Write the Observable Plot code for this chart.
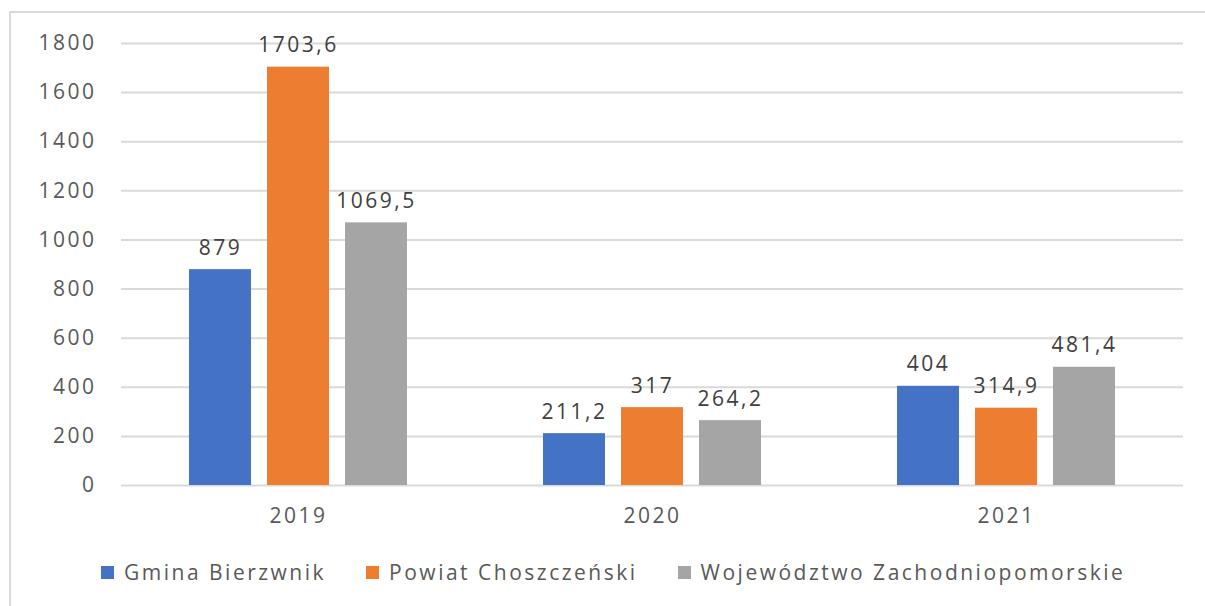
<!DOCTYPE html>
<html><head><meta charset="utf-8">
<script src="https://cdn.jsdelivr.net/npm/d3@7"></script>
<script src="https://cdn.jsdelivr.net/npm/@observablehq/plot@0.6"></script>
<style>
body{margin:0;background:#fff;width:1205px;height:606px;overflow:hidden;position:relative;font-family:"Open Sans",sans-serif;}
#frame{position:absolute;left:9px;top:11px;width:1220px;height:640px;border:2px solid #d9d9d9;box-sizing:border-box;}
#chart{position:absolute;left:0;top:0;}
#legend{position:absolute;top:558px;left:101px;display:flex;align-items:center;font-size:21px;letter-spacing:2.5px;color:#595959;white-space:nowrap;}
#legend .item{display:flex;align-items:center;margin-right:40px;}
#legend .sw{width:13px;height:13px;margin-right:10px;}
</style></head>
<body>
<div id="frame"></div>
<div id="chart"></div>
<div id="legend"></div>
<script>
const years = ["2019", "2020", "2021"];
const seriesNames = ["Gmina Bierzwnik", "Powiat Choszczeński", "Województwo Zachodniopomorskie"];
const gmina = [879, 211.2, 404];
const powiat = [1703.6, 317, 314.9];
const wojewodztwo = [1069.5, 264.2, 481.4];
const colors = ["#4472C4", "#ED7D31", "#A5A5A5"];
const yTicks = [0, 200, 400, 600, 800, 1000, 1200, 1400, 1600, 1800];

const seriesValues = [gmina, powiat, wojewodztwo];
const data = years.flatMap((y, i) => seriesNames.map((s, j) => ({year: y, series: s, value: seriesValues[j][i]})));
const locale = d3.formatLocale({decimal: ",", thousands: "", grouping: [3], currency: ["", ""]});
const fmt = v => Number.isInteger(v) ? String(v) : locale.format(".1f")(v);

const chart = Plot.plot({
  width: 1205, height: 545,
  marginLeft: 120, marginRight: 22, marginTop: 43, marginBottom: 60,
  style: {fontFamily: "Open Sans, sans-serif", fontSize: "21px", color: "#595959", background: "transparent", letterSpacing: "2.5px"},
  fx: {domain: years, padding: 0, label: null},
  x: {domain: seriesNames, paddingInner: 0.205, paddingOuter: 0.87, axis: null},
  y: {domain: [0, 1800], label: null},
  color: {domain: seriesNames, range: colors},
  marks: [
    Plot.ruleY(yTicks, {stroke: "#d9d9d9", strokeWidth: 2}),
    Plot.axisY(yTicks, {tickSize: 0, tickPadding: 25, label: null, fill: "#595959", tickFormat: d => String(d)}),
    Plot.axisFx({tickSize: 0, tickPadding: 23, label: null, anchor: "bottom", fill: "#595959"}),
    Plot.barY(data, {fx: "year", x: "series", y: "value", fill: "series"}),
    Plot.text(data, {fx: "year", x: "series", y: "value", text: d => fmt(d.value), dy: -15, lineAnchor: "bottom", fill: "#404040"})
  ]
});
document.getElementById("chart").appendChild(chart);

const legend = document.getElementById("legend");
seriesNames.forEach((s, i) => {
  const item = document.createElement("div");
  item.className = "item";
  const sw = document.createElement("div");
  sw.className = "sw";
  sw.style.background = colors[i];
  const label = document.createElement("span");
  label.textContent = s;
  item.appendChild(sw);
  item.appendChild(label);
  legend.appendChild(item);
});
</script>
</body></html>
